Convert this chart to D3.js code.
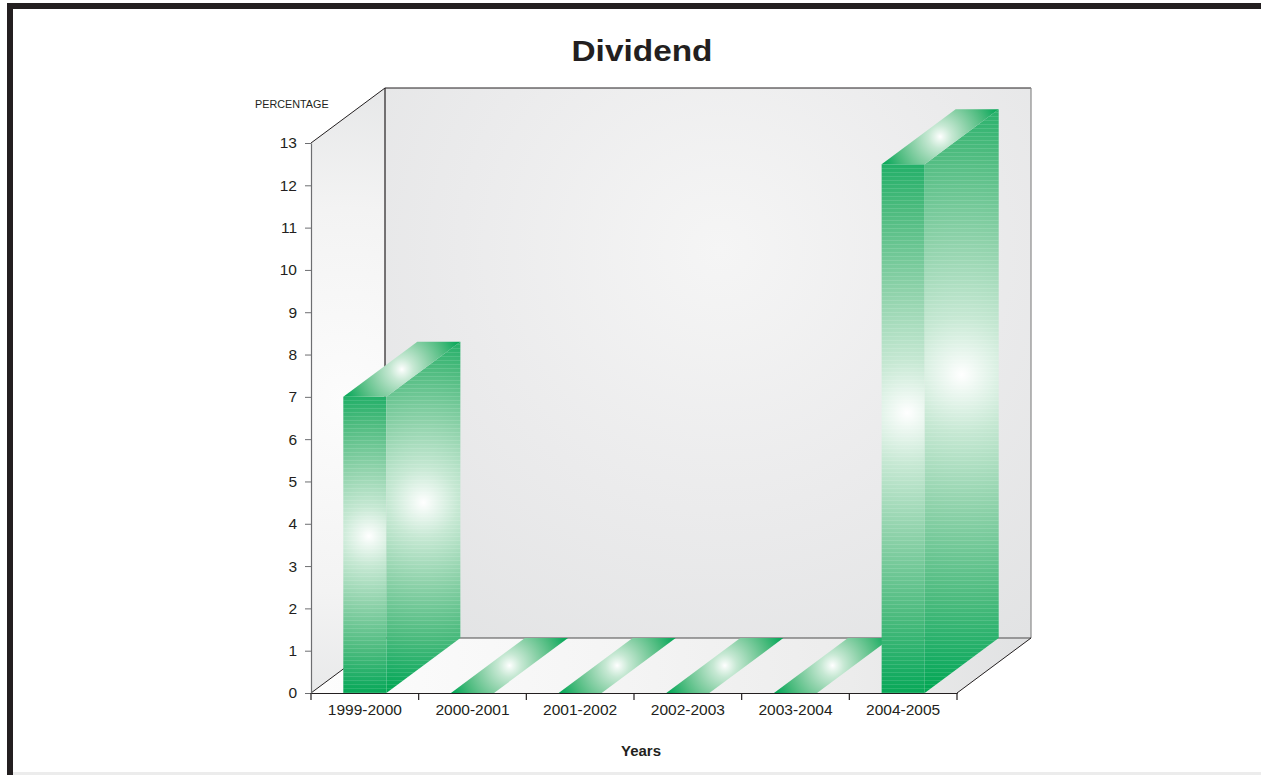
<!DOCTYPE html>
<html>
<head>
<meta charset="utf-8">
<script src="https://cdn.jsdelivr.net/npm/d3@7/dist/d3.min.js"></script>
<style>
  html, body { margin: 0; padding: 0; background: #ffffff; }
  svg { display: block; }
  text { font-family: "Liberation Sans", Arial, Helvetica, sans-serif; fill: #231f20; }
</style>
</head>
<body>
<svg id="chart" width="1261" height="775"></svg>
<script>
// ---- data ----
const categories = ["1999-2000", "2000-2001", "2001-2002", "2002-2003", "2003-2004", "2004-2005"];
const values = [7, 0, 0, 0, 0, 12.5];
const yTicks = [0, 1, 2, 3, 4, 5, 6, 7, 8, 9, 10, 11, 12, 13];
const titleText = "Dividend";
const yAxisTitle = "PERCENTAGE";
const xAxisTitle = "Years";

// ---- layout ----
const W = 1261, H = 775;
const plot = { left: 311, right: 957, top: 143, bottom: 693 };
const depth = { dx: 74, dy: -55 };
const GREEN = "#00a651";

const svg = d3.select("#chart");
const defs = svg.append("defs");

const x = d3.scaleBand().domain(categories).range([plot.left, plot.right]).padding(0);
const y = d3.scaleLinear().domain([0, 13]).range([plot.bottom, plot.top]);

// ---- frame ----
svg.append("rect").attr("x", 7).attr("y", 3).attr("width", W - 7).attr("height", 6).attr("fill", "#231f20");
svg.append("rect").attr("x", 7).attr("y", 3).attr("width", 6).attr("height", H - 3).attr("fill", "#231f20");
svg.append("rect").attr("x", 13).attr("y", 772).attr("width", W - 13).attr("height", 3).attr("fill", "#ececec");

// ---- helpers ----
const pt = (px, py) => [px, py];
const poly = pts => "M" + pts.map(p => p.join(",")).join("L") + "Z";
let gid = 0;
function radial(cx, cy, r, stops) {
  const id = "g" + (gid++);
  const g = defs.append("radialGradient").attr("id", id)
    .attr("gradientUnits", "userSpaceOnUse")
    .attr("cx", cx).attr("cy", cy).attr("r", r).attr("fx", cx).attr("fy", cy);
  stops.forEach(s => g.append("stop").attr("offset", s[0]).attr("stop-color", s[1]));
  return "url(#" + id + ")";
}
function linear(x1, y1, x2, y2, stops) {
  const id = "g" + (gid++);
  const g = defs.append("linearGradient").attr("id", id)
    .attr("gradientUnits", "userSpaceOnUse")
    .attr("x1", x1).attr("y1", y1).attr("x2", x2).attr("y2", y2);
  stops.forEach(s => g.append("stop").attr("offset", s[0]).attr("stop-color", s[1]));
  return "url(#" + id + ")";
}
const greenStops = [[0, "#ffffff"], [0.05, "#eef8f2"], [0.18, "#c6e8d3"], [0.42, "#8ed2aa"], [0.7, "#4cbb7e"], [0.9, "#17ac62"], [1, GREEN]];

// stripe texture for bar faces
const pat = defs.append("pattern").attr("id", "stripes").attr("patternUnits", "userSpaceOnUse")
  .attr("width", 8).attr("height", 4);
pat.append("rect").attr("x", 0).attr("y", 0).attr("width", 8).attr("height", 1).attr("fill", "#ffffff").attr("opacity", 0.12);

// ---- walls ----
const x0 = plot.left, x1 = plot.right, yb = plot.bottom, yt = plot.top;
const dx = depth.dx, dy = depth.dy;

svg.append("path")
  .attr("d", poly([pt(x0 + dx, yt + dy), pt(x1 + dx, yt + dy), pt(x1 + dx, yb + dy), pt(x0 + dx, yb + dy)]))
  .attr("fill", radial(720, 250, 520, [[0, "#f5f5f5"], [0.5, "#ebebec"], [1, "#e1e2e3"]]));
svg.append("path")
  .attr("d", poly([pt(x0, yt), pt(x0 + dx, yt + dy), pt(x0 + dx, yb + dy), pt(x0, yb)]))
  .attr("fill", radial(345, 400, 320, [[0, "#fcfcfc"], [0.6, "#f3f3f3"], [1, "#e6e7e8"]]));
svg.append("path")
  .attr("d", poly([pt(x0, yb), pt(x1, yb), pt(x1 + dx, yb + dy), pt(x0 + dx, yb + dy)]))
  .attr("fill", linear(x0, 0, x1 + dx, 0, [[0, "#fdfdfd"], [0.4, "#f5f5f5"], [0.75, "#ececec"], [1, "#e1e2e3"]]));

const edge = (pts, c, w) => svg.append("path").attr("d", "M" + pts.map(p => p.join(",")).join("L"))
  .attr("fill", "none").attr("stroke", c).attr("stroke-width", w);
edge([pt(x0, yt), pt(x0 + dx, yt + dy), pt(x1 + dx, yt + dy)], "#231f20", 1);
edge([pt(x0 + dx, yt + dy), pt(x0 + dx, yb + dy)], "#231f20", 1.2);
edge([pt(x1 + dx, yt + dy), pt(x1 + dx, yb + dy)], "#8a8a8a", 1.2);
edge([pt(x0 + dx, yb + dy), pt(x1 + dx, yb + dy)], "#4d4d4d", 1.2);
edge([pt(x0, yb), pt(x0 + dx, yb + dy)], "#231f20", 1);
edge([pt(x1, yb), pt(x1 + dx, yb + dy)], "#231f20", 1);

// ---- bars ----
const bw = x.bandwidth() * 0.4;
const boff = x.bandwidth() * 0.3;
const barG = svg.append("g");
categories.forEach((c, i) => {
  const v = values[i];
  const bx0 = x(c) + boff, bx1 = bx0 + bw;
  const top = y(v), bot = y(0);
  const h = bot - top;
  if (h > 0) {
    const front = poly([pt(bx0, top), pt(bx1, top), pt(bx1, bot), pt(bx0, bot)]);
    barG.append("path").attr("d", front)
      .attr("fill", radial((bx0 + bx1) / 2 + 4, top + h * 0.47, h * 0.55, greenStops));
    barG.append("path").attr("d", front).attr("fill", "url(#stripes)");
    const side = poly([pt(bx1, top), pt(bx1 + dx, top + dy), pt(bx1 + dx, bot + dy), pt(bx1, bot)]);
    barG.append("path").attr("d", side)
      .attr("fill", radial(bx1 + dx / 2, top + dy / 2 + h * 0.45, (h - dy) * 0.55, greenStops));
    barG.append("path").attr("d", side).attr("fill", "url(#stripes)");
  }
  const cx = (bx0 + bx1 + dx) / 2, cy = top + dy / 2;
  const rr = Math.hypot(bx1 + dx - cx, top + dy - cy);
  barG.append("path")
    .attr("d", poly([pt(bx0, top), pt(bx1, top), pt(bx1 + dx, top + dy), pt(bx0 + dx, top + dy)]))
    .attr("fill", radial(cx, cy, rr, greenStops));
});

// ---- axes ----
const yAxis = d3.axisLeft(y).tickValues(yTicks).tickSize(6).tickSizeOuter(0).tickPadding(8);
const gy = svg.append("g").attr("transform", `translate(${plot.left},0)`).call(yAxis);
gy.select(".domain").attr("stroke", "#6d6e71").attr("stroke-width", 1.2);
gy.selectAll(".tick line").attr("stroke", "#6d6e71");
gy.selectAll(".tick text").style("font-size", "15.5px").style("fill", "#231f20")
  .style("font-family", '"Liberation Sans", Arial, sans-serif');

const xAxis = d3.axisBottom(x).tickSize(0).tickPadding(11);
const gx = svg.append("g").attr("transform", `translate(0,${plot.bottom})`).call(xAxis);
gx.select(".domain").attr("stroke", "#231f20").attr("stroke-width", 1.2);
gx.selectAll(".tick text").style("font-size", "15.5px").style("fill", "#231f20")
  .style("font-family", '"Liberation Sans", Arial, sans-serif');
const bounds = categories.map(c => x(c)).concat([x(categories[categories.length - 1]) + x.bandwidth()]);
gx.selectAll("line.bound").data(bounds).enter().append("line").attr("class", "bound")
  .attr("x1", d => d).attr("x2", d => d).attr("y1", 0).attr("y2", 7)
  .attr("stroke", "#231f20").attr("stroke-width", 1.2);

// ---- titles ----
svg.append("text").attr("x", 642).attr("y", 61).attr("text-anchor", "middle")
  .attr("textLength", 141).attr("lengthAdjust", "spacingAndGlyphs")
  .style("font-size", "30px").style("font-weight", "bold").text(titleText);
svg.append("text").attr("x", 255).attr("y", 108).style("font-size", "10.8px").text(yAxisTitle);
svg.append("text").attr("x", 641).attr("y", 756).attr("text-anchor", "middle")
  .style("font-size", "15px").style("font-weight", "bold").text(xAxisTitle);
</script>
</body>
</html>
